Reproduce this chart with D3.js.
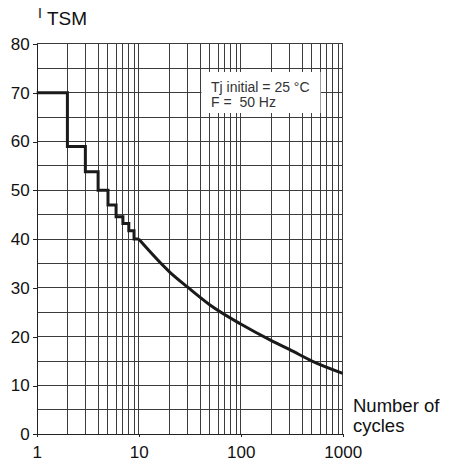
<!DOCTYPE html>
<html>
<head>
<meta charset="utf-8">
<script src="https://cdnjs.cloudflare.com/ajax/libs/d3/7.8.5/d3.min.js"></script>
<style>
    body { margin: 0; background: #fff; }
    svg { display: block; font-family: "Liberation Sans", Arial, sans-serif; }
</style>
</head>
<body>
<svg id="chart"></svg>
<script>
// surge current vs number of cycles
var stepCycles = [1, 2, 3, 4, 5, 6, 7, 8, 9, 10];
var stepCurrent = [70, 59, 53.8, 50, 47, 44.6, 43.2, 41.7, 40, 40];
var curveCycles = [10, 20, 30, 50, 100, 200, 300, 500, 1000];
var curveCurrent = [40, 33.3, 30.2, 26.5, 22.6, 19.2, 17.4, 15.0, 12.5];

var xTickValues = [1, 10, 100, 1000];
var xTickLabels = ["1", "10", "100", "1000"];
var yTickValues = [0, 10, 20, 30, 40, 50, 60, 70, 80];
var yGridValues = [5, 10, 15, 20, 25, 30, 35, 40, 45, 50, 55, 60, 65, 70, 75, 80];
var legendLines = ["Tj initial = 25 \u00B0C", "F =  50 Hz"];

var width = 455, height = 468;
var svg = d3.select("#chart")
    .attr("width", width)
    .attr("height", height);

var x = d3.scaleLog().domain([1, 1000]).range([36.7, 342.7]);
var y = d3.scaleLinear().domain([0, 80]).range([434.3, 43.9]);

// vertical grid: 2..10, 20..100, 200..1000
var xGrid = [];
[1, 10, 100].forEach(function (dec) {
    for (var i = 2; i <= 10; i++) xGrid.push(dec * i);
});

var grid = svg.append("g")
    .attr("shape-rendering", "crispEdges")
    .attr("stroke", "#3c3c3c")
    .attr("stroke-width", 1);

grid.selectAll("line.v")
    .data(xGrid)
    .enter().append("line")
    .attr("class", "v")
    .attr("x1", function (d) { return x(d); })
    .attr("x2", function (d) { return x(d); })
    .attr("y1", y(0))
    .attr("y2", y(80));

grid.selectAll("line.h")
    .data(yGridValues)
    .enter().append("line")
    .attr("class", "h")
    .attr("x1", x(1))
    .attr("x2", x(1000))
    .attr("y1", function (d) { return y(d); })
    .attr("y2", function (d) { return y(d); });

// axes
var yAxis = d3.axisLeft(y)
    .tickValues(yTickValues)
    .tickSize(4)
    .tickPadding(3)
    .tickFormat(d3.format("d"));

var gy = svg.append("g")
    .attr("transform", "translate(" + x(1) + ",0)")
    .call(yAxis);
gy.select(".domain").attr("stroke", "#222").attr("shape-rendering", "crispEdges");
gy.selectAll(".tick line").attr("stroke", "#222").attr("shape-rendering", "crispEdges");
gy.selectAll(".tick text")
    .attr("font-size", 17)
    .attr("fill", "#111")
    .attr("font-family", "Liberation Sans, Arial, sans-serif");

var xAxis = d3.axisBottom(x)
    .tickValues(xTickValues)
    .tickSize(3)
    .tickPadding(9)
    .tickFormat(function (d, i) { return xTickLabels[i]; });

var gx = svg.append("g")
    .attr("transform", "translate(0," + y(0) + ")")
    .call(xAxis);
gx.select(".domain").attr("stroke", "#222").attr("shape-rendering", "crispEdges");
gx.selectAll(".tick line").attr("stroke", "#222").attr("shape-rendering", "crispEdges");
gx.selectAll(".tick text")
    .attr("font-size", 17)
    .attr("fill", "#111")
    .attr("font-family", "Liberation Sans, Arial, sans-serif");

// legend box, white, covers grid
var legend = svg.append("g");
legend.append("rect")
    .attr("x", 201.5)
    .attr("y", 72)
    .attr("width", 119)
    .attr("height", 41)
    .attr("fill", "#fff");
legend.selectAll("text")
    .data(legendLines)
    .enter().append("text")
    .attr("x", 211)
    .attr("y", function (d, i) { return 92 + i * 14.5; })
    .attr("font-size", 14)
    .attr("fill", "#333")
    .style("white-space", "pre")
    .text(function (d) { return d; });

// step part and smooth part of the curve
var stepData = stepCycles.map(function (c, i) { return [c, stepCurrent[i]]; });
var curveData = curveCycles.map(function (c, i) { return [c, curveCurrent[i]]; });

var stepLine = d3.line()
    .x(function (d) { return x(d[0]); })
    .y(function (d) { return y(d[1]); })
    .curve(d3.curveStepAfter);

var smoothLine = d3.line()
    .x(function (d) { return x(d[0]); })
    .y(function (d) { return y(d[1]); })
    .curve(d3.curveMonotoneX);

svg.append("path")
    .datum(stepData)
    .attr("d", stepLine)
    .attr("fill", "none")
    .attr("stroke", "#1a1a1a")
    .attr("stroke-width", 3)
    .attr("stroke-linejoin", "miter");

svg.append("path")
    .datum(curveData)
    .attr("d", smoothLine)
    .attr("fill", "none")
    .attr("stroke", "#1a1a1a")
    .attr("stroke-width", 3)
    .attr("stroke-linecap", "butt");

// axis titles
var title = svg.append("text").attr("fill", "#111");
title.append("tspan").attr("x", 38).attr("y", 18).attr("font-size", 14).text("I");
title.append("tspan").attr("x", 47).attr("y", 25).attr("font-size", 19).text("TSM");

svg.append("text")
    .attr("x", 353)
    .attr("y", 412)
    .attr("font-size", 18.5)
    .attr("fill", "#111")
    .text("Number of");
svg.append("text")
    .attr("x", 353)
    .attr("y", 432)
    .attr("font-size", 18.5)
    .attr("fill", "#111")
    .text("cycles");
</script>
</body>
</html>
